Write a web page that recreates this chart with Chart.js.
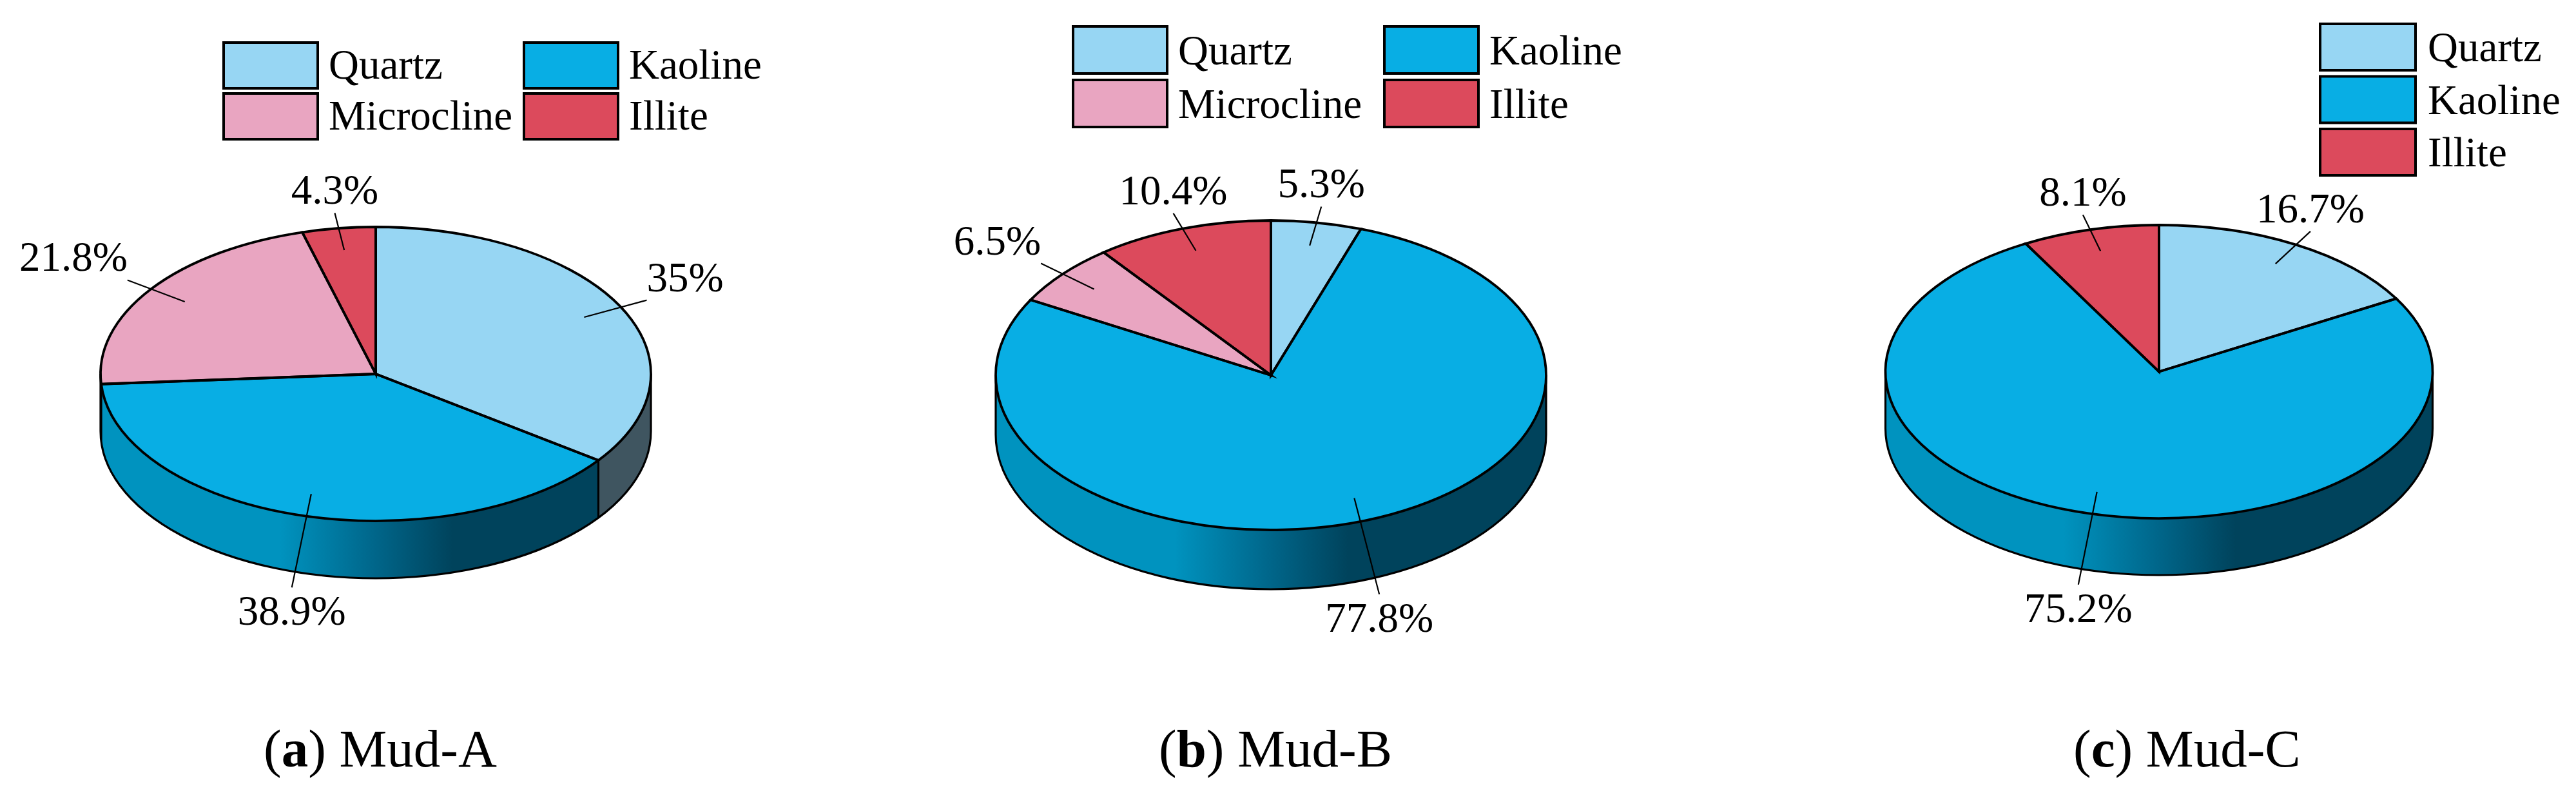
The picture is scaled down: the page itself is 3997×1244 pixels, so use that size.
<!DOCTYPE html>
<html>
<head>
<meta charset="utf-8">
<title>Mud mineral composition</title>
<script src="https://cdn.jsdelivr.net/npm/chart.js@4"></script>
<style>
  html, body { margin: 0; padding: 0; background: #fff; }
  body { position: relative; width: 3997px; height: 1244px; overflow: hidden; }
  canvas { position: absolute; top: 0; }
  .cap {
    position: absolute;
    top: 1120px;
    font: 83px/83px "Liberation Serif", serif;
    color: #000;
    white-space: nowrap;
  }
</style>
</head>
<body>
<canvas id="mudA" width="1300" height="1244" style="left:0px"></canvas>
<canvas id="mudB" width="1300" height="1244" style="left:1300px"></canvas>
<canvas id="mudC" width="1397" height="1244" style="left:2600px"></canvas>
<div class="cap" style="left:409px">(<b>a</b>) Mud-A</div>
<div class="cap" style="left:1798px">(<b>b</b>) Mud-B</div>
<div class="cap" style="left:3217px">(<b>c</b>) Mud-C</div>
<script>
  var labelsA = ["Quartz", "Kaoline", "Microcline", "Illite"];
  var valuesA = [35, 38.9, 21.8, 4.3];

  var labelsB = ["Quartz", "Kaoline", "Microcline", "Illite"];
  var valuesB = [5.3, 77.8, 6.5, 10.4];

  var labelsC = ["Quartz", "Kaoline", "Illite"];
  var valuesC = [16.7, 75.2, 8.1];

  var topColors = { Quartz: "#97D6F3", Kaoline: "#08AEE4", Microcline: "#E9A5C1", Illite: "#DC4A5C" };
  var sideColors = { Quartz: "#3F5560", Microcline: "#A5778A", Illite: "#9C3441" };

  var FONT = '65px "Liberation Serif", serif';

  // ry and depth flatten the pie, the rest places it on the page (px)
  var layoutA = {
    left: 0, width: 1300, cx: 583, cy: 580, rx: 427, ry: 228, depth: 89,
    legend: { x: 347, y: 66, w: 146, h: 71, cols: 2, colGap: 466, rowGap: 79, textX: 163, textY: 56 }
  };
  var layoutB = {
    left: 1300, width: 1300, cx: 1972, cy: 582, rx: 427, ry: 240, depth: 92,
    legend: { x: 1665, y: 41, w: 146, h: 73, cols: 2, colGap: 483, rowGap: 83, textX: 163, textY: 59 }
  };
  var layoutC = {
    left: 2600, width: 1397, cx: 3350, cy: 576.5, rx: 424.5, ry: 227.5, depth: 88,
    legend: { x: 3600, y: 37, w: 148, h: 72, cols: 1, colGap: 0, rowGap: 81.5, textX: 167, textY: 58 }
  };

  function sideFill(ctx, label, cx, rx) {
    if (label !== "Kaoline") return sideColors[label];
    var grad = ctx.createLinearGradient(cx - 0.35 * rx, 0, cx + 0.28 * rx, 0);
    grad.addColorStop(0, "#0093BF");
    grad.addColorStop(0.55, "#00668A");
    grad.addColorStop(1, "#00435C");
    return grad;
  }

  // the wall below the front half of the pie
  function drawSides(chart, box) {
    var ctx = chart.ctx;
    var arcs = chart.getDatasetMeta(0).data;
    var cy = arcs[0].y, cx = arcs[0].x, rx = arcs[0].outerRadius;
    arcs.forEach(function (arc, i) {
      var a0 = Math.max(arc.startAngle, 0);
      var a1 = Math.min(arc.endAngle, Math.PI);
      if (a1 <= a0) return;
      ctx.beginPath();
      ctx.ellipse(cx, cy, rx, box.ry, 0, a0, a1);
      ctx.ellipse(cx, cy + box.depth, rx, box.ry, 0, a1, a0, true);
      ctx.closePath();
      ctx.fillStyle = sideFill(ctx, chart.data.labels[i], cx, rx);
      ctx.fill();
    });
    ctx.strokeStyle = "#000";
    ctx.lineWidth = 3.2;
    ctx.beginPath();
    ctx.ellipse(cx, cy + box.depth, rx, box.ry, 0, 0, Math.PI);
    ctx.moveTo(cx - rx, cy);
    ctx.lineTo(cx - rx, cy + box.depth);
    ctx.moveTo(cx + rx, cy);
    ctx.lineTo(cx + rx, cy + box.depth);
    arcs.forEach(function (arc) {
      var a = arc.endAngle;
      if (a > 0 && a < Math.PI) {
        var x = cx + rx * Math.cos(a);
        var y = cy + box.ry * Math.sin(a);
        ctx.moveTo(x, y);
        ctx.lineTo(x, y + box.depth);
      }
    });
    ctx.stroke();
  }

  function drawOutlines(chart, box) {
    var ctx = chart.ctx;
    ctx.strokeStyle = "#000";
    ctx.lineWidth = 3.8;
    ctx.lineJoin = "miter";
    chart.getDatasetMeta(0).data.forEach(function (arc) {
      ctx.beginPath();
      ctx.moveTo(arc.x, arc.y);
      ctx.ellipse(arc.x, arc.y, arc.outerRadius, box.ry, 0, arc.startAngle, arc.endAngle);
      ctx.closePath();
      ctx.stroke();
    });
  }

  function drawLeaders(chart, box) {
    var ctx = chart.ctx;
    var values = chart.data.datasets[0].data;
    ctx.font = FONT;
    ctx.fillStyle = "#000";
    ctx.strokeStyle = "#000";
    ctx.lineWidth = 2.2;
    chart.getDatasetMeta(0).data.forEach(function (arc, i) {
      var mid = (arc.startAngle + arc.endAngle) / 2;
      var ux = Math.cos(mid) * arc.outerRadius;
      var uy = Math.sin(mid) * box.ry;
      var lower = uy > 0;
      var endX = arc.x + ux * 1.105;
      var endY = arc.y + uy * 1.105 + (lower ? box.depth : 0);
      ctx.beginPath();
      ctx.moveTo(arc.x + ux * 0.85, arc.y + uy * 0.85);
      ctx.lineTo(endX, endY);
      ctx.stroke();

      ctx.textAlign = "center";
      if (Math.cos(mid) > 0.7) ctx.textAlign = "left";
      if (Math.cos(mid) < -0.7) ctx.textAlign = "right";
      ctx.textBaseline = "alphabetic";
      ctx.fillText(values[i] + "%", endX, lower ? endY + 58 : endY - 14);
    });
  }

  function drawLegend(chart, box) {
    var ctx = chart.ctx;
    var lg = box.legend;
    var x0 = lg.x - box.left;
    ctx.font = FONT;
    ctx.textAlign = "left";
    ctx.textBaseline = "alphabetic";
    chart.data.labels.forEach(function (label, i) {
      var col = i % lg.cols;
      var row = Math.floor(i / lg.cols);
      var x = x0 + col * lg.colGap;
      var y = lg.y + row * lg.rowGap;
      ctx.fillStyle = topColors[label];
      ctx.fillRect(x, y, lg.w, lg.h);
      ctx.strokeStyle = "#000";
      ctx.lineWidth = 4;
      ctx.strokeRect(x, y, lg.w, lg.h);
      ctx.fillStyle = "#000";
      ctx.fillText(label, x + lg.textX, y + lg.textY);
    });
  }

  // chart.js only draws round pies, so squash the slices while they are painted
  var pie3d = {
    id: "pie3d",
    beforeDatasetsDraw: function (chart, args, opts) {
      var box = opts.box;
      var arc = chart.getDatasetMeta(0).data[0];
      var ctx = chart.ctx;
      drawSides(chart, box);
      ctx.save();
      ctx.translate(arc.x, arc.y);
      ctx.scale(1, box.ry / arc.outerRadius);
      ctx.translate(-arc.x, -arc.y);
    },
    afterDatasetsDraw: function (chart, args, opts) {
      chart.ctx.restore();
      drawOutlines(chart, opts.box);
      drawLeaders(chart, opts.box);
      drawLegend(chart, opts.box);
    }
  };

  function makePie(id, labels, values, box) {
    var ctx = document.getElementById(id).getContext("2d");
    return new Chart(ctx, {
      type: "pie",
      plugins: [pie3d],
      data: {
        labels: labels,
        datasets: [
          {
            data: values,
            backgroundColor: labels.map(function (l) { return topColors[l]; }),
            borderWidth: 0
          }
        ]
      },
      options: {
        responsive: false,
        animation: false,
        layout: {
          padding: {
            left: box.cx - box.rx - box.left,
            right: box.left + box.width - box.cx - box.rx,
            top: box.cy - box.rx,
            bottom: 1244 - box.cy - box.rx
          }
        },
        plugins: {
          legend: { display: false },
          tooltip: { enabled: false },
          pie3d: { box: box }
        }
      }
    });
  }

  makePie("mudA", labelsA, valuesA, layoutA);
  makePie("mudB", labelsB, valuesB, layoutB);
  makePie("mudC", labelsC, valuesC, layoutC);
</script>
</body>
</html>
